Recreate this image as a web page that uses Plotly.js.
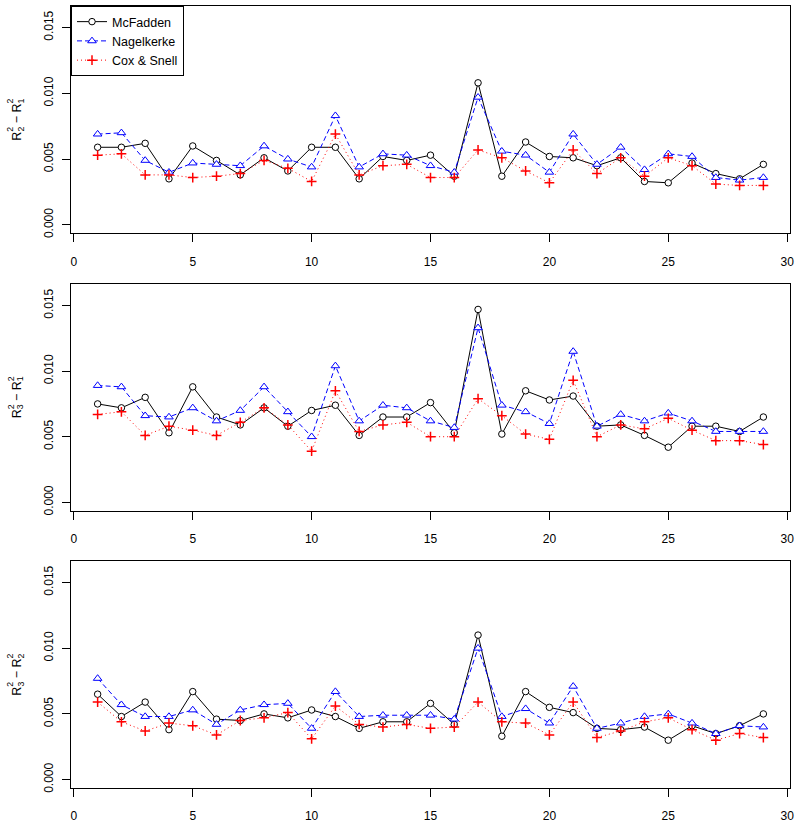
<!DOCTYPE html>
<html>
<head>
<meta charset="utf-8">
<script src="https://cdn.plot.ly/plotly-3.0.1.min.js"></script>
<style>
html, body { margin: 0; padding: 0; background: #fff; }
#chart { width: 800px; height: 823px; }
</style>
</head>
<body>
<div id="chart"></div>
<script>
// x positions (model index)
const xIdx = [1,2,3,4,5,6,7,8,9,10,11,12,13,14,15,16,17,18,19,20,21,22,23,24,25,26,27,28,29];

// Panel 1: R2^2 - R1^2
const mcfadden1 = [0.0059,0.0059,0.0062,0.0035,0.0060,0.0049,0.0038,0.0051,0.0041,0.0059,0.0059,0.0035,0.0052,0.0049,0.0053,0.0037,0.0108,0.0037,0.0063,0.0052,0.0051,0.0045,0.0051,0.0033,0.0032,0.0047,0.0039,0.0035,0.0046];
const nagelkerke1 = [0.0069,0.0070,0.0049,0.0040,0.0047,0.0046,0.0045,0.0060,0.0050,0.0044,0.0083,0.0044,0.0054,0.0053,0.0045,0.0040,0.0097,0.0056,0.0053,0.0040,0.0069,0.0046,0.0059,0.0042,0.0054,0.0052,0.0036,0.0034,0.0036];
const coxsnell1 = [0.0053,0.0054,0.0038,0.0038,0.0036,0.0037,0.0039,0.0049,0.0043,0.0033,0.0069,0.0038,0.0045,0.0046,0.0036,0.0036,0.0057,0.0051,0.0041,0.0032,0.0057,0.0039,0.0051,0.0037,0.0051,0.0045,0.0031,0.0030,0.0030];

// Panel 2: R3^2 - R1^2
const mcfadden2 = [0.0075,0.0072,0.0080,0.0053,0.0088,0.0065,0.0059,0.0072,0.0058,0.0070,0.0074,0.0051,0.0065,0.0065,0.0076,0.0053,0.0147,0.0052,0.0085,0.0078,0.0081,0.0058,0.0059,0.0051,0.0042,0.0058,0.0058,0.0054,0.0065];
const nagelkerke2 = [0.0089,0.0088,0.0066,0.0065,0.0072,0.0062,0.0070,0.0088,0.0069,0.0050,0.0104,0.0062,0.0074,0.0072,0.0062,0.0057,0.0133,0.0074,0.0069,0.0060,0.0115,0.0058,0.0067,0.0062,0.0068,0.0062,0.0054,0.0054,0.0054];
const coxsnell2 = [0.0067,0.0069,0.0051,0.0058,0.0055,0.0051,0.0061,0.0072,0.0059,0.0039,0.0085,0.0054,0.0059,0.0061,0.0050,0.0050,0.0079,0.0066,0.0052,0.0048,0.0093,0.0050,0.0059,0.0056,0.0064,0.0055,0.0047,0.0047,0.0044];

// Panel 3: R3^2 - R2^2
const mcfadden3 = [0.0065,0.0048,0.0059,0.0038,0.0067,0.0046,0.0045,0.0050,0.0047,0.0053,0.0048,0.0039,0.0044,0.0044,0.0058,0.0042,0.0110,0.0033,0.0067,0.0055,0.0051,0.0039,0.0038,0.0040,0.0030,0.0041,0.0035,0.0041,0.0050];
const nagelkerke3 = [0.0077,0.0057,0.0048,0.0048,0.0053,0.0042,0.0053,0.0057,0.0058,0.0039,0.0067,0.0048,0.0049,0.0049,0.0049,0.0046,0.0100,0.0048,0.0054,0.0043,0.0071,0.0039,0.0043,0.0048,0.0050,0.0043,0.0035,0.0041,0.0040];
const coxsnell3 = [0.0059,0.0044,0.0037,0.0043,0.0041,0.0034,0.0045,0.0047,0.0051,0.0031,0.0056,0.0042,0.0040,0.0042,0.0039,0.0040,0.0059,0.0044,0.0043,0.0034,0.0059,0.0032,0.0037,0.0044,0.0047,0.0038,0.0030,0.0035,0.0032];

const seriesNames = ["McFadden", "Nagelkerke", "Cox & Snell"];
const xTickVals = [0,5,10,15,20,25,30];
const yTickVals = [0, 0.005, 0.010, 0.015];
const yTickText = ["0.000", "0.005", "0.010", "0.015"];
// y-axis label subscripts per panel: R_a^2 - R_b^2
const labelSubs = [["2","1"], ["3","1"], ["3","2"]];

const panels = [
  [mcfadden1, nagelkerke1, coxsnell1],
  [mcfadden2, nagelkerke2, coxsnell2],
  [mcfadden3, nagelkerke3, coxsnell3]
];

const FONT = "Liberation Sans, Arial, Helvetica, sans-serif";
const styles = [
  {line: {color: "#000000", width: 1, dash: "solid"},
   marker: {symbol: "circle", size: 6.5, color: "#ffffff", line: {color: "#000000", width: 1}}},
  {line: {color: "#0000ff", width: 1, dash: "5px,3px"},
   marker: {symbol: "triangle-up", size: 7.5, color: "#ffffff", line: {color: "#0000ff", width: 1}}},
  {line: {color: "#ff0000", width: 1, dash: "1px,3px"},
   marker: {symbol: "cross-thin", size: 7, color: "#ff0000", line: {color: "#ff0000", width: 1.5}}}
];

const traces = [];
panels.forEach((series, p) => {
  series.forEach((vals, s) => {
    traces.push({
      type: "scatter", mode: "lines+markers",
      x: xIdx, y: vals, name: seriesNames[s],
      xaxis: p === 0 ? "x" : "x" + (p + 1),
      yaxis: p === 0 ? "y" : "y" + (p + 1),
      showlegend: p === 0, legendgroup: seriesNames[s],
      line: styles[s].line, marker: styles[s].marker,
      hoverinfo: "x+y+name"
    });
  });
});

// Geometry (pixels) of the plot area
const W = 800, H = 823, mL = 71, mR = 10, mT = 6, mB = 35;
const pw = W - mL - mR, ph = H - mT - mB;
const fy = py => (H - mB - py) / ph;   // pixel y -> paper
const fx = px => (px - mL) / pw;       // pixel x -> paper

const panelPix = [[6, 233.3], [284, 510.7], [561, 788.3]];

const xaxisBase = {
  range: [-0.12, 30.12], tickmode: "array", tickvals: xTickVals,
  ticks: "outside", ticklen: 8, tickwidth: 1, tickcolor: "#000",
  showline: true, mirror: true, linecolor: "#000", linewidth: 1,
  showgrid: false, zeroline: false,
  tickfont: {family: FONT, size: 12, color: "#000"}, ticklabelstandoff: 9
};
const yaxisBase = {
  range: [-0.00064, 0.01664], tickmode: "array", tickvals: yTickVals, ticktext: yTickText,
  ticks: "outside", ticklen: 8, tickwidth: 1, tickcolor: "#000", tickangle: -90,
  showline: true, mirror: true, linecolor: "#000", linewidth: 1,
  showgrid: false, zeroline: false,
  tickfont: {family: FONT, size: 12, color: "#000"}, ticklabelstandoff: 4
};

const layout = {
  width: W, height: H,
  margin: {l: mL, r: mR, t: mT, b: mB, pad: 0},
  paper_bgcolor: "#fff", plot_bgcolor: "#fff",
  font: {family: FONT, size: 12, color: "#000"},
  showlegend: true,
  legend: {x: 0, y: 1, xanchor: "left", yanchor: "top", xref: "paper", yref: "paper",
           bordercolor: "#000", borderwidth: 1, bgcolor: "#fff",
           font: {family: FONT, size: 12.5, color: "#000"}, tracegroupgap: 0},
  annotations: []
};

panelPix.forEach((pp, p) => {
  const k = p === 0 ? "" : String(p + 1);
  layout["xaxis" + k] = Object.assign({}, xaxisBase, {anchor: "y" + k, domain: [0, 1]});
  layout["yaxis" + k] = Object.assign({}, yaxisBase, {anchor: "x" + k, domain: [Math.max(0, fy(pp[1])), fy(pp[0])]});
  const yc = (pp[0] + pp[1]) / 2;
  const subs = labelSubs[p];
  // main label text with subscripts
  layout.annotations.push({
    xref: "paper", yref: "paper", x: fx(18), y: fy(yc), xanchor: "center", yanchor: "middle",
    text: "R<sub>" + subs[0] + "</sub> − R<sub>" + subs[1] + "</sub>",
    textangle: -90, showarrow: false, font: {family: FONT, size: 12.5, color: "#000"}
  });
  // superscript 2's stacked over subscripts
  [[yc + 9.5], [yc - 18.6]].forEach(q => {
    layout.annotations.push({
      xref: "paper", yref: "paper", x: fx(10.5), y: fy(q[0]), xanchor: "center", yanchor: "middle",
      text: "2", textangle: -90, showarrow: false, font: {family: FONT, size: 8.75, color: "#000"}
    });
  });
});

Plotly.newPlot("chart", traces, layout, {displayModeBar: false, staticPlot: true});
</script>
</body>
</html>
